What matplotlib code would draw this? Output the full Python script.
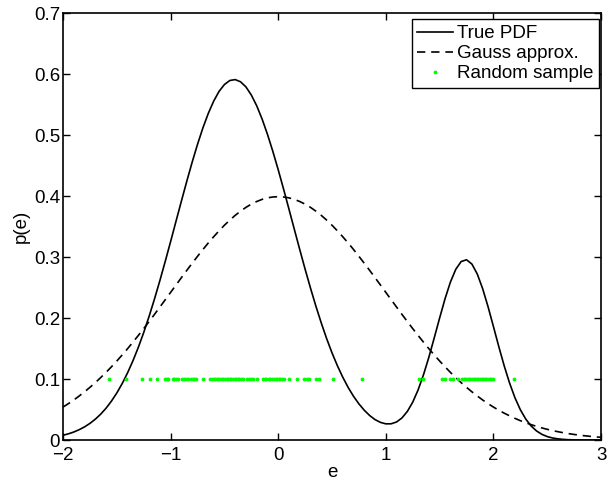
import numpy as np
import matplotlib
matplotlib.use("Agg")
import matplotlib.pyplot as plt

plt.rcParams['font.family'] = ['Liberation Sans', 'DejaVu Sans']

# malla de e cada 0.05, de -2 a 3
e = np.linspace(-2, 3, 101)

# densidad verdadera
true_pdf = [
    0.0078, 0.0101, 0.0131, 0.0169, 0.0215, 0.0272, 0.0341, 0.0423, 0.0521, 0.0637,
    0.0771, 0.0925, 0.1101, 0.1299, 0.1519, 0.1762, 0.2027, 0.2311, 0.2612, 0.2928,
    0.3253, 0.3585, 0.3915, 0.4240, 0.4553, 0.4847, 0.5116, 0.5354, 0.5555, 0.5715,
    0.5828, 0.5894, 0.5909, 0.5873, 0.5789, 0.5656, 0.5480, 0.5263, 0.5012, 0.4732,
    0.4430, 0.4112, 0.3784, 0.3452, 0.3123, 0.2800, 0.2490, 0.2195, 0.1919, 0.1662,
    0.1428, 0.1217, 0.1029, 0.0861, 0.0716, 0.0592, 0.0487, 0.0401, 0.0334, 0.0289,
    0.0265, 0.0266, 0.0296, 0.0362, 0.0469, 0.0621, 0.0822, 0.1070, 0.1358, 0.1676,
    0.2001, 0.2315, 0.2589, 0.2799, 0.2926, 0.2955, 0.2884, 0.2720, 0.2479, 0.2184,
    0.1859, 0.1529, 0.1215, 0.0933, 0.0692, 0.0496, 0.0344, 0.0230, 0.0149, 0.0093,
    0.0056, 0.0033, 0.0019, 0.0010, 0.0005, 0.0003, 0.0001, 0.0001, 0.0000, 0.0000,
    0.0000,
]

# aproximacion gaussiana
gauss_pdf = [
    0.0540, 0.0596, 0.0656, 0.0721, 0.0790, 0.0863, 0.0940, 0.1023, 0.1109, 0.1200,
    0.1295, 0.1394, 0.1497, 0.1604, 0.1714, 0.1826, 0.1942, 0.2059, 0.2179, 0.2299,
    0.2420, 0.2541, 0.2661, 0.2780, 0.2897, 0.3011, 0.3123, 0.3230, 0.3332, 0.3429,
    0.3521, 0.3605, 0.3683, 0.3752, 0.3814, 0.3867, 0.3910, 0.3945, 0.3970, 0.3984,
    0.3989, 0.3984, 0.3970, 0.3945, 0.3910, 0.3867, 0.3814, 0.3752, 0.3683, 0.3605,
    0.3521, 0.3429, 0.3332, 0.3230, 0.3123, 0.3011, 0.2897, 0.2780, 0.2661, 0.2541,
    0.2420, 0.2299, 0.2179, 0.2059, 0.1942, 0.1826, 0.1714, 0.1604, 0.1497, 0.1394,
    0.1295, 0.1200, 0.1109, 0.1023, 0.0940, 0.0863, 0.0790, 0.0721, 0.0656, 0.0596,
    0.0540, 0.0488, 0.0440, 0.0396, 0.0355, 0.0317, 0.0283, 0.0252, 0.0224, 0.0198,
    0.0175, 0.0154, 0.0136, 0.0119, 0.0104, 0.0091, 0.0079, 0.0069, 0.0060, 0.0051,
    0.0044,
]

# muestra aleatoria
muestra = [
    -1.57, -1.41, -1.27, -1.19, -1.13, -1.05, -1.035, -1.02, -0.98, -0.965,
    -0.95, -0.93, -0.89, -0.875, -0.86, -0.84, -0.81, -0.795, -0.78, -0.76,
    -0.70, -0.63, -0.615, -0.60, -0.585, -0.57, -0.555, -0.54, -0.525, -0.51,
    -0.495, -0.48, -0.465, -0.45, -0.435, -0.42, -0.405, -0.39, -0.375, -0.36,
    -0.345, -0.33, -0.29, -0.27, -0.255, -0.235, -0.20, -0.14, -0.125, -0.11,
    -0.09, -0.075, -0.06, -0.04, -0.025, -0.01, 0.005, 0.02, 0.035, 0.05,
    0.10, 0.175, 0.235, 0.27, 0.285, 0.355, 0.375, 0.505, 0.775, 1.31,
    1.345, 1.52, 1.55, 1.60, 1.625, 1.67, 1.71, 1.725, 1.74, 1.755,
    1.77, 1.785, 1.80, 1.815, 1.83, 1.845, 1.86, 1.875, 1.89, 1.905,
    1.92, 1.935, 1.95, 1.965, 1.98, 1.995, 2.195,
]
nivel_muestra = 0.1

xticks = [-2, -1, 0, 1, 2, 3]
yticks = [0, 0.1, 0.2, 0.3, 0.4, 0.5, 0.6, 0.7]

fig = plt.figure(figsize=(6.08, 4.83), dpi=100)
ax = fig.add_axes([0.1036, 0.089, 0.885, 0.884])

ax.plot(e, true_pdf, color='black', lw=1.2, label='True PDF')
ax.plot(e, gauss_pdf, color='black', lw=1.2, ls=(0, (5, 3.5)), label='Gauss approx.')
ax.plot(muestra, [nivel_muestra] * len(muestra), ls='none', marker='.',
        ms=3.5, color=(0, 1, 0), label='Random sample')

ax.set_xlim(-2, 3)
ax.set_ylim(0, 0.7)
ax.set_xticks(xticks)
ax.set_yticks(yticks)
ax.set_xticklabels([str(t).replace('-', '\u2212') for t in xticks])
ax.set_yticklabels(['0' if t == 0 else f'{t:g}' for t in yticks])
ax.tick_params(direction='in', top=True, right=True, length=5, width=1,
               labelsize=13.5)
ax.tick_params(axis='x', pad=5)
ax.tick_params(axis='y', pad=2)
for s in ax.spines.values():
    s.set_linewidth(1.2)

ax.set_xlabel('e', fontsize=13.5, labelpad=0)
ax.set_ylabel('p(e)', fontsize=13.5, labelpad=3)

leg = ax.legend(loc='upper right', bbox_to_anchor=(0.997, 0.985),
                fontsize=13.5, frameon=True, fancybox=False,
                edgecolor='black', framealpha=1, handlelength=1.9,
                handletextpad=0.25, borderpad=0.3, labelspacing=0.15,
                borderaxespad=0)
leg.get_frame().set_linewidth(1.0)

fig.savefig('out.png', dpi=100)
